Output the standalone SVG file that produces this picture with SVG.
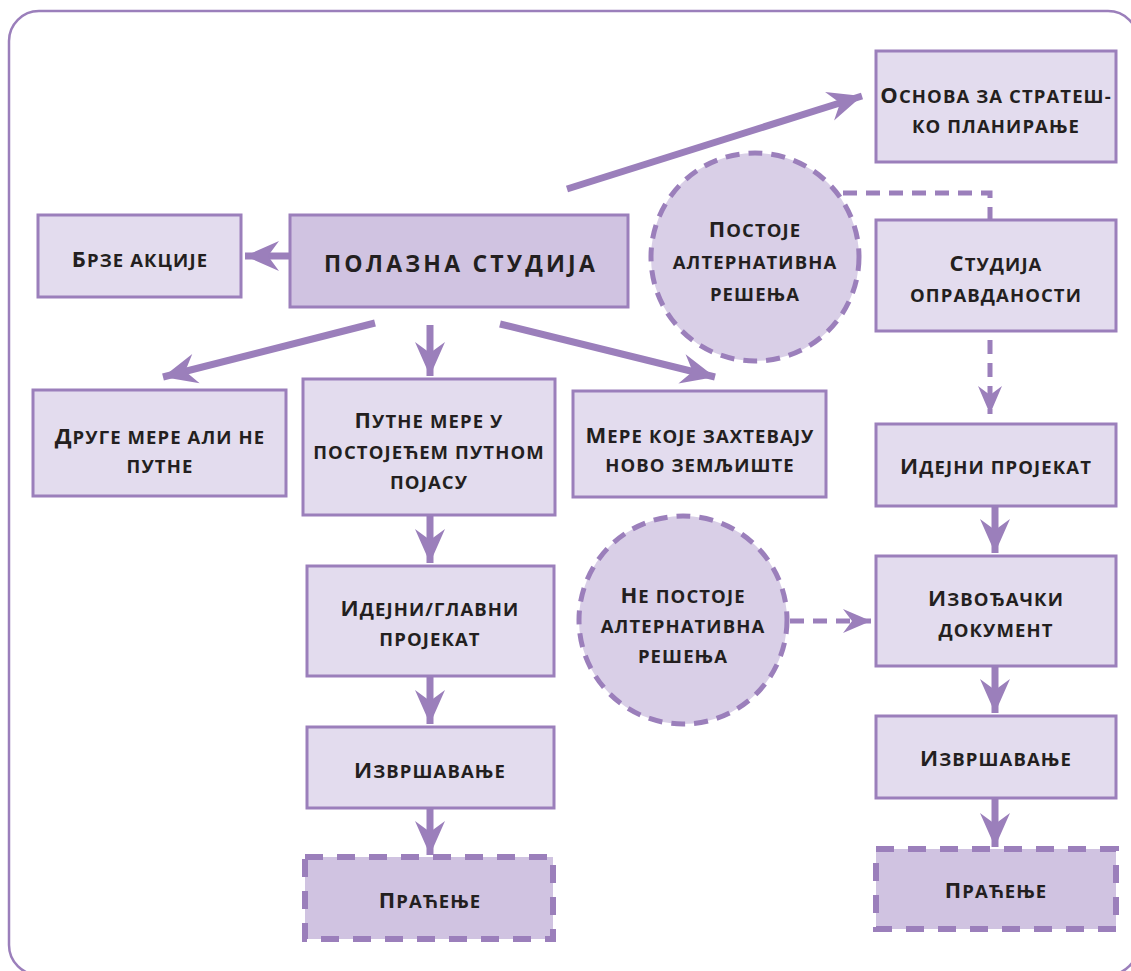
<svg xmlns="http://www.w3.org/2000/svg" width="1131" height="971" viewBox="0 0 1131 971">
<defs>
<style>
.box{fill:#e3dcee;stroke:#9b7fbb;stroke-width:3}
.dark{fill:#d0c3e1;stroke:#9b7fbb;stroke-width:3}
.dbox{fill:#d0c3e1;stroke:#9b7fbb;stroke-width:6;stroke-dasharray:18 14}
.circ{fill:#d9cfe7;stroke:#9b7fbb;stroke-width:5;stroke-dasharray:14 9}
.t{font-family:"Open Sans","Noto Sans","Liberation Sans",sans-serif;font-weight:700;font-size:18.5px;letter-spacing:1.1px;fill:#231f20;text-anchor:middle}
.u{font-size:22px}
.big{font-family:"Open Sans","Noto Sans","Liberation Sans",sans-serif;font-weight:700;font-size:23px;letter-spacing:3.2px;fill:#231f20;text-anchor:middle}
.c{fill:none;stroke:#9b7fbb;stroke-width:7}
.d{fill:none;stroke:#9b7fbb;stroke-width:5;stroke-dasharray:14 9}
</style>
<marker id="ah" markerUnits="userSpaceOnUse" markerWidth="40" markerHeight="34" viewBox="-36 -17 40 34" refX="0" refY="0" orient="auto">
<path d="M0,0 L-34,-15 L-23,0 L-34,15 Z" fill="#9b7fbb"/>
</marker>
<marker id="ahs" markerUnits="userSpaceOnUse" markerWidth="34" markerHeight="30" viewBox="-30 -15 34 30" refX="0" refY="0" orient="auto">
<path d="M0,0 L-28,-12 L-19,0 L-28,12 Z" fill="#9b7fbb"/>
</marker>
</defs>
<rect x="9" y="11" width="1129" height="964" rx="30" fill="none" stroke="#9b7fbb" stroke-width="2.5"/>
<g id="connectors">
<line class="c" x1="292" y1="256" x2="245" y2="256" marker-end="url(#ah)"/>
<line class="c" x1="567" y1="189" x2="862" y2="96" marker-end="url(#ah)"/>
<line class="c" x1="375" y1="323" x2="163" y2="377" marker-end="url(#ah)"/>
<line class="c" x1="430" y1="325" x2="430" y2="376" marker-end="url(#ah)"/>
<line class="c" x1="500" y1="324" x2="715" y2="377" marker-end="url(#ah)"/>
<line class="c" x1="430" y1="516" x2="430" y2="563" marker-end="url(#ah)"/>
<line class="c" x1="430" y1="677" x2="430" y2="724" marker-end="url(#ah)"/>
<line class="c" x1="430" y1="809" x2="430" y2="855" marker-end="url(#ah)"/>
<line class="c" x1="995" y1="507" x2="995" y2="553" marker-end="url(#ah)"/>
<line class="c" x1="995" y1="667" x2="995" y2="713" marker-end="url(#ah)"/>
<line class="c" x1="995" y1="799" x2="995" y2="847" marker-end="url(#ah)"/>
<path class="d" d="M843,193 H990 V219"/>
<line class="d" x1="990" y1="340" x2="990" y2="414" marker-end="url(#ahs)"/>
<line class="d" x1="790" y1="621" x2="871" y2="621" marker-end="url(#ahs)"/>
</g>
<g id="brze"><rect class="box" x="38" y="215" width="203" height="82"/><text class="t" x="140" y="267"><tspan class="u">Б</tspan>РЗЕ АКЦИЈЕ</text></g>
<g id="polazna"><rect class="dark" x="290" y="215" width="338" height="92"/><text class="big" x="461" y="272">ПОЛАЗНА СТУДИЈА</text></g>
<g id="osnova"><rect class="box" x="876" y="51" width="240" height="111"/><text class="t" x="996" y="103"><tspan class="u">О</tspan>СНОВА ЗА СТРАТЕШ-</text><text class="t" x="996" y="133">КО ПЛАНИРАЊЕ</text></g>
<g id="postoje"><circle class="circ" cx="755" cy="257" r="104"/><text class="t" x="755" y="237"><tspan class="u">П</tspan>ОСТОЈЕ</text><text class="t" x="755" y="269">АЛТЕРНАТИВНА</text><text class="t" x="755" y="301">РЕШЕЊА</text></g>
<g id="studija"><rect class="box" x="876" y="220" width="240" height="111"/><text class="t" x="996" y="271"><tspan class="u">С</tspan>ТУДИЈА</text><text class="t" x="996" y="302">ОПРАВДАНОСТИ</text></g>
<g id="druge"><rect class="box" x="33" y="390" width="253" height="106"/><text class="t" x="160" y="444"><tspan class="u">Д</tspan>РУГЕ МЕРЕ АЛИ НЕ</text><text class="t" x="160" y="473">ПУТНЕ</text></g>
<g id="putne"><rect class="box" x="303" y="379" width="252" height="136"/><text class="t" x="429" y="428"><tspan class="u">П</tspan>УТНЕ МЕРЕ У</text><text class="t" x="429" y="459">ПОСТОЈЕЋЕМ ПУТНОМ</text><text class="t" x="429" y="489">ПОЈАСУ</text></g>
<g id="mere"><rect class="box" x="573" y="391" width="253" height="106"/><text class="t" x="700" y="443"><tspan class="u">М</tspan>ЕРЕ КОЈЕ ЗАХТЕВАЈУ</text><text class="t" x="700" y="472">НОВО ЗЕМЉИШТЕ</text></g>
<g id="idejni-r"><rect class="box" x="876" y="424" width="240" height="82"/><text class="t" x="996" y="474"><tspan class="u">И</tspan>ДЕЈНИ ПРОЈЕКАТ</text></g>
<g id="ne-postoje"><circle class="circ" cx="683" cy="620" r="104"/><text class="t" x="683" y="603"><tspan class="u">Н</tspan>Е ПОСТОЈЕ</text><text class="t" x="683" y="633">АЛТЕРНАТИВНА</text><text class="t" x="683" y="663">РЕШЕЊА</text></g>
<g id="izvodjacki"><rect class="box" x="876" y="556" width="240" height="110"/><text class="t" x="996" y="606"><tspan class="u">И</tspan>ЗВОЂАЧКИ</text><text class="t" x="996" y="637">ДОКУМЕНТ</text></g>
<g id="izvrsavanje-r"><rect class="box" x="876" y="716" width="240" height="82"/><text class="t" x="996" y="766"><tspan class="u">И</tspan>ЗВРШАВАЊЕ</text></g>
<g id="pracenje-r"><rect class="dbox" x="876" y="849" width="240" height="80"/><text class="t" x="996" y="898"><tspan class="u">П</tspan>РАЋЕЊЕ</text></g>
<g id="idejni-l"><rect class="box" x="307" y="566" width="247" height="110"/><text class="t" x="430" y="616"><tspan class="u">И</tspan>ДЕЈНИ/ГЛАВНИ</text><text class="t" x="430" y="646">ПРОЈЕКАТ</text></g>
<g id="izvrsavanje-l"><rect class="box" x="307" y="727" width="247" height="81"/><text class="t" x="430" y="778"><tspan class="u">И</tspan>ЗВРШАВАЊЕ</text></g>
<g id="pracenje-l"><rect class="dbox" x="305" y="857" width="248" height="82"/><text class="t" x="430" y="908"><tspan class="u">П</tspan>РАЋЕЊЕ</text></g>
</svg>
